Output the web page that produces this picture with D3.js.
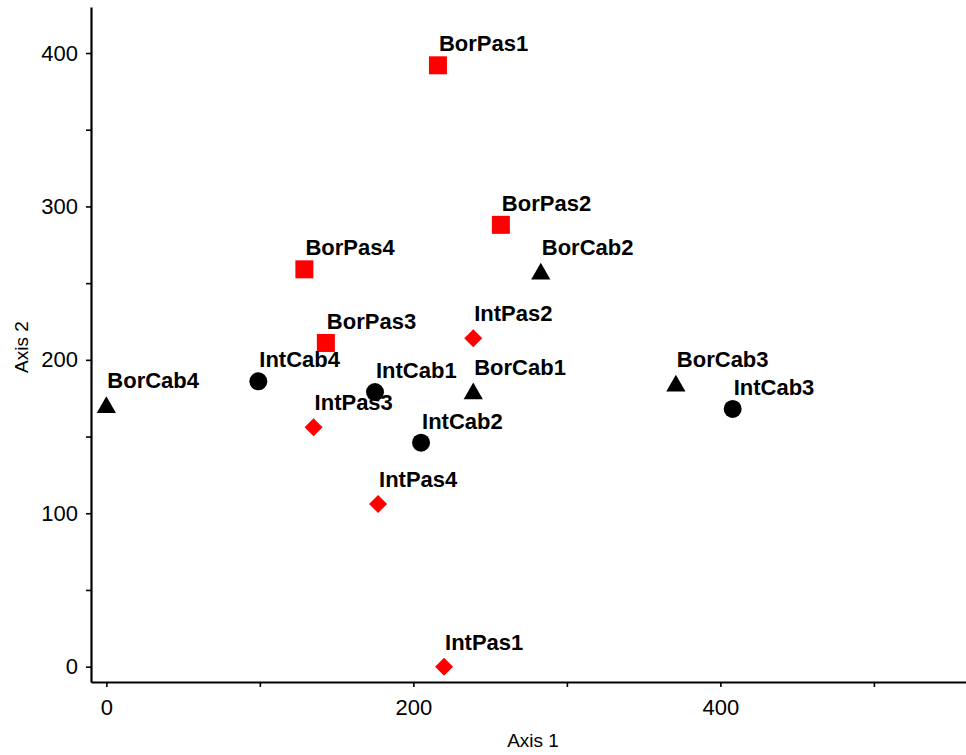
<!DOCTYPE html>
<html>
<head>
<meta charset="utf-8">
<script src="https://cdn.jsdelivr.net/npm/d3@7"></script>
<style>
  html, body { margin: 0; padding: 0; background: #fff; }
  svg { display: block; font-family: "Liberation Sans", Arial, Helvetica, sans-serif; }
</style>
</head>
<body>
<svg id="chart" width="966" height="755"></svg>
<script>
// Ordination scores of the sampling sites
const sites  = ["BorPas1", "BorPas2", "BorPas3", "BorPas4",
                "BorCab1", "BorCab2", "BorCab3", "BorCab4",
                "IntCab1", "IntCab2", "IntCab3", "IntCab4",
                "IntPas1", "IntPas2", "IntPas3", "IntPas4"];
const groups = ["BorPas", "BorPas", "BorPas", "BorPas",
                "BorCab", "BorCab", "BorCab", "BorCab",
                "IntCab", "IntCab", "IntCab", "IntCab",
                "IntPas", "IntPas", "IntPas", "IntPas"];
const axis1  = [216, 257, 143, 129,
                239, 283, 371, 0,
                175, 205, 408, 99,
                220, 239, 135, 177];
const axis2  = [392, 288, 211, 259,
                178, 256, 183, 169,
                179, 146, 168, 186,
                0, 214, 156, 106];

const xTicks = [0, 100, 200, 300, 400, 500];
const xTickLabels = [0, 200, 400];
const yTicks = [0, 50, 100, 150, 200, 250, 300, 350, 400];
const yTickLabels = [0, 100, 200, 300, 400];

// Marker style per group
const groupStyle = {
  BorPas: { shape: d3.symbolSquare,   size: 324, rotate: 0,  fill: "#ff0000", dy: -14 },
  BorCab: { shape: d3.symbolTriangle, size: 160, rotate: 0,  fill: "#000000", dy: -19 },
  IntCab: { shape: d3.symbolCircle,   size: 254, rotate: 0,  fill: "#000000", dy: -14 },
  IntPas: { shape: d3.symbolSquare,   size: 162, rotate: 45, fill: "#ff0000", dy: -17 }
};

const svg = d3.select("#chart");
const plotLeft = 91, plotRight = 966, plotTop = 7, plotBottom = 682;

const x = d3.scaleLinear().domain([-10, 560]).range([plotLeft, plotRight]);
const y = d3.scaleLinear().domain([-10, 430]).range([plotBottom, plotTop]);

// Axes
const xAxis = d3.axisBottom(x)
  .tickValues(xTicks)
  .tickFormat(d => xTickLabels.includes(d) ? d : "")
  .tickSizeInner(5).tickSizeOuter(0).tickPadding(12);
const yAxis = d3.axisLeft(y)
  .tickValues(yTicks)
  .tickFormat(d => yTickLabels.includes(d) ? d : "")
  .tickSizeInner(5).tickSizeOuter(0).tickPadding(8);

const gx = svg.append("g").attr("transform", `translate(0,${plotBottom})`).call(xAxis);
const gy = svg.append("g").attr("transform", `translate(${plotLeft},0)`).call(yAxis);

[gx, gy].forEach(g => {
  g.select(".domain").attr("stroke", "#000").attr("stroke-width", 2.2);
  g.selectAll(".tick line").attr("stroke", "#000").attr("stroke-width", 1.6);
  g.selectAll(".tick text").attr("fill", "#000").style("font-size", "22px")
    .style("font-family", "\"Liberation Sans\", Arial, sans-serif");
});

// Axis titles
svg.append("text")
  .attr("x", 533).attr("y", 747)
  .attr("text-anchor", "middle")
  .style("font-size", "19px")
  .text("Axis 1");
svg.append("text")
  .attr("transform", `translate(28,347) rotate(-90)`)
  .attr("text-anchor", "middle")
  .style("font-size", "19px")
  .text("Axis 2");

// Points and labels
const points = sites.map((s, i) => ({ name: s, group: groups[i], a1: axis1[i], a2: axis2[i] }));

const pts = svg.append("g");
pts.selectAll("path")
  .data(points)
  .join("path")
  .attr("d", d => d3.symbol().type(groupStyle[d.group].shape).size(groupStyle[d.group].size)())
  .attr("transform", d => `translate(${x(d.a1)},${y(d.a2)}) rotate(${groupStyle[d.group].rotate})`)
  .attr("fill", d => groupStyle[d.group].fill);

pts.selectAll("text")
  .data(points)
  .join("text")
  .attr("x", d => x(d.a1) + 1)
  .attr("y", d => y(d.a2) + groupStyle[d.group].dy)
  .style("font-size", "22px")
  .style("font-weight", "bold")
  .attr("fill", "#000")
  .text(d => d.name);
</script>
</body>
</html>
